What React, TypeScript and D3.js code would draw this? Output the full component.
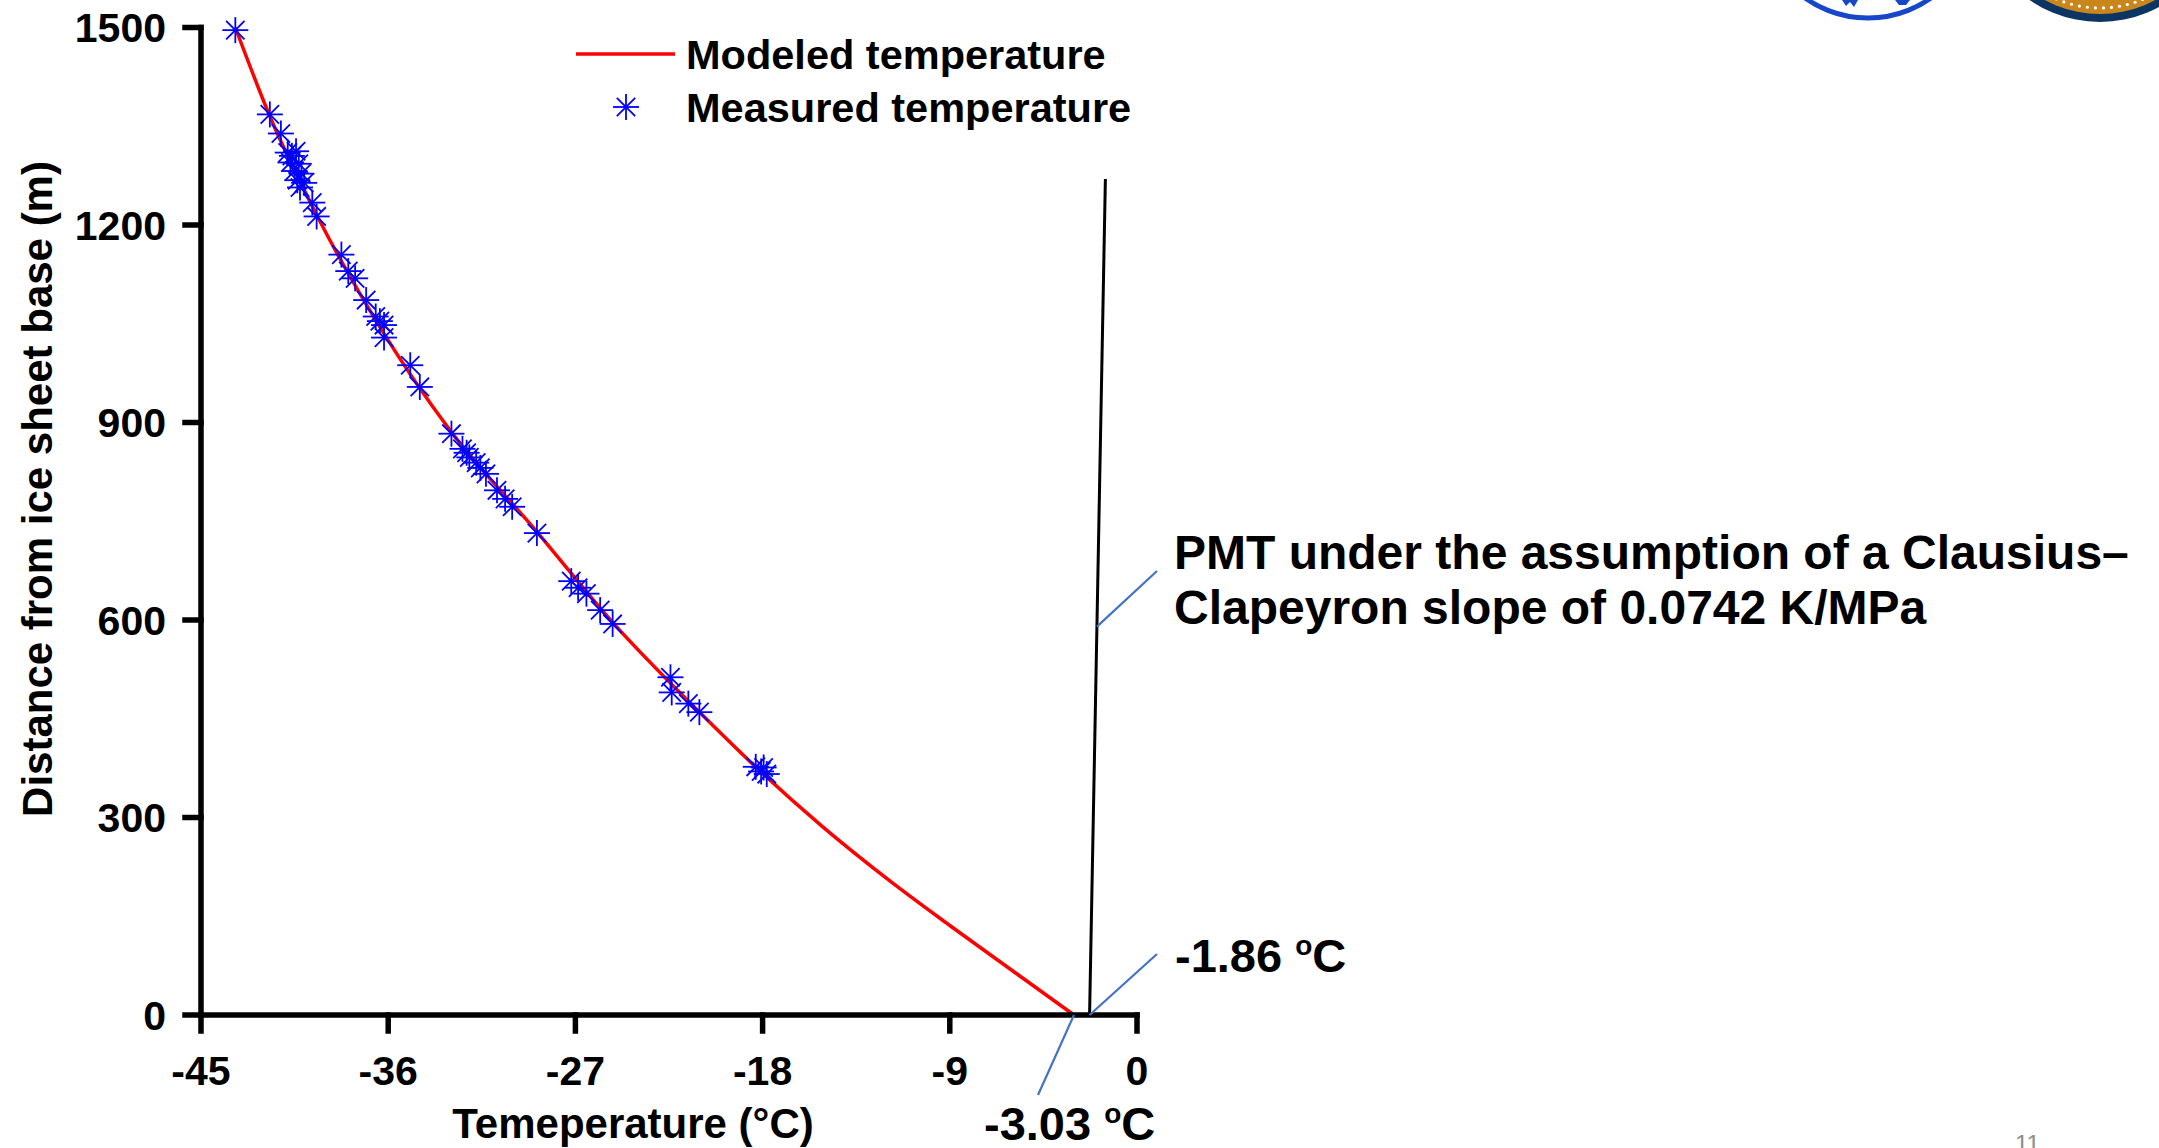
import React from "react";
import * as d3 from "d3";

// ---- data ----
const xTicks = [-45, -36, -27, -18, -9, 0];
const yTicks = [0, 300, 600, 900, 1200, 1500];

const modelTemp = [-43.35, -41.7, -39.4, -36.3, -33.0, -28.85, -25.2, -21.1, -18.07, -15.15, -11.85, -9.0, -5.8, -3.03];
const modelDepth = [1500, 1366, 1213, 1040, 887, 734, 596, 462, 369, 287, 203, 136, 63, 0];

const measTemp = [
  -43.35, -41.69, -41.16, -40.83, -40.63, -40.43, -40.7, -40.3, -40.5, -40.17, -40.37, -40.04, -40.24,
  -39.65, -39.44, -38.25, -37.92, -37.59, -37.06, -36.6, -36.4, -36.2, -36.2, -34.94, -34.48,
  -32.96, -32.43, -32.23, -32.1, -31.77, -31.57, -31.3, -30.77, -30.38, -30.04, -28.85,
  -27.2, -26.87, -26.47, -25.81, -25.21, -22.43, -22.37, -21.57, -21.04, -18.33, -18.07, -17.8, -17.95,
];
const measDepth = [
  1496, 1368, 1339, 1310, 1305, 1312, 1295, 1293, 1282, 1278, 1268, 1264, 1257,
  1234, 1213, 1155, 1130, 1119, 1086, 1061, 1054, 1048, 1029, 987, 954,
  883, 860, 854, 847, 839, 831, 822, 797, 784, 772, 732,
  659, 649, 640, 615, 594, 513, 490, 473, 460, 377, 370, 366, 376,
];

const pmtTemp = [-2.28, -1.52];
const pmtDepth = [0, 1270];

const legendLabels = ["Modeled temperature", "Measured temperature"];
const pmtText = ["PMT under the assumption of a Clausius\u2013", "Clapeyron slope of 0.0742 K/MPa"];
const baseLabel = "-1.86 ";
const modelBaseLabel = "-3.03 ";

const FONT = "'Liberation Sans', Arial, Helvetica, sans-serif";

function Star({ cx, cy, r, color, sw }: { cx: number; cy: number; r: number; color: string; sw: number }) {
  const d = r * Math.SQRT1_2;
  return (
    <g stroke={color} strokeWidth={sw}>
      <line x1={cx - r} y1={cy} x2={cx + r} y2={cy} />
      <line x1={cx} y1={cy - r} x2={cx} y2={cy + r} />
      <line x1={cx - d} y1={cy - d} x2={cx + d} y2={cy + d} />
      <line x1={cx - d} y1={cy + d} x2={cx + d} y2={cy - d} />
    </g>
  );
}

export default function App() {
  const W = 2159;
  const H = 1148;
  const x = d3.scaleLinear().domain([-45, 0]).range([201, 1137]);
  const y = d3.scaleLinear().domain([0, 1500]).range([1015, 27.5]);

  const modelPts: [number, number][] = modelTemp.map((t, i) => [x(t), y(modelDepth[i])]);
  const line = d3.line<[number, number]>().curve(d3.curveMonotoneX);
  const modelPath = line(modelPts) || "";

  const pmtPts: [number, number][] = pmtTemp.map((t, i) => [x(t), y(pmtDepth[i])]);
  const pmtPath = d3.line<[number, number]>()(pmtPts) || "";

  const pmtAnchorDepth = 590;
  const pmtInterp = d3.scaleLinear().domain(pmtDepth).range(pmtTemp);
  const pmtAnchor = [x(pmtInterp(pmtAnchorDepth)), y(pmtAnchorDepth)];
  const baseAnchor = [x(pmtTemp[0]), y(0)];
  const modelAnchor = [x(modelTemp[modelTemp.length - 1]), y(0)];

  const axisColor = "#000";
  const axisW = 5.5;
  const tickLen = 16;
  const fs = 41;
  const callout = "#4472C4";
  const starR = 13;
  const starW = 1.8;

  const dots = d3.range(0, 360, 4.2).map((a) => {
    const rad = (a * Math.PI) / 180;
    return [2100 + 110 * Math.cos(rad), -102 + 110 * Math.sin(rad)];
  });

  return (
    <svg
      width={W}
      height={H}
      viewBox={`0 0 ${W} ${H}`}
      style={{ position: "absolute", left: 0, top: 0, background: "#fff" }}
      fontFamily={FONT}
    >
      <rect x={0} y={0} width={W} height={H} fill="#fff" />

      {/* logos (cut off at top) */}
      <g>
        <circle cx={1868} cy={-91} r={109} fill="#fff" stroke="#1747c9" strokeWidth={5} />
        <path d="M1842,0 L1846,6 L1850,2 L1854,7 L1858,0 Z" fill="#1747c9" />
        <path d="M1895,0 L1899,5 L1906,5 L1910,0 Z" fill="#1747c9" />
        <circle cx={2100} cy={-102} r={124} fill="#0d3563" />
        <circle cx={2100} cy={-102} r={116} fill="#c8861b" />
        {dots.map((p, i) => (
          <circle key={i} cx={p[0]} cy={p[1]} r={1.6} fill="#fff" />
        ))}
      </g>

      {/* PMT line */}
      <path d={pmtPath} stroke="#000" strokeWidth={3} fill="none" />

      {/* model curve */}
      <path d={modelPath} stroke="#ff0000" strokeWidth={3.5} fill="none" />

      {/* measured points */}
      {measTemp.map((t, i) => (
        <Star key={i} cx={x(t)} cy={y(measDepth[i])} r={starR} color="#0000ff" sw={starW} />
      ))}

      {/* axes */}
      <g stroke={axisColor} strokeWidth={axisW} strokeLinecap="square">
        <line x1={x(-45)} y1={y(0)} x2={x(-45)} y2={y(1500)} />
        <line x1={x(-45)} y1={y(0)} x2={x(0)} y2={y(0)} />
        {yTicks.map((v) => (
          <line key={"yt" + v} x1={x(-45) - tickLen} y1={y(v)} x2={x(-45)} y2={y(v)} />
        ))}
        {xTicks.map((v) => (
          <line key={"xt" + v} x1={x(v)} y1={y(0)} x2={x(v)} y2={y(0) + tickLen} />
        ))}
      </g>
      <g fontSize={fs} fontWeight="bold" fill="#000">
        {yTicks.map((v) => (
          <text key={"yl" + v} x={166} y={y(v)} dy="0.36em" textAnchor="end">
            {v}
          </text>
        ))}
        {xTicks.map((v) => (
          <text key={"xl" + v} x={x(v)} y={1085} textAnchor="middle">
            {v}
          </text>
        ))}
        <text x={633} y={1138} textAnchor="middle" fontSize={42}>
          Temeperature (°C)
        </text>
        <text transform="translate(52,489) rotate(-90)" textAnchor="middle" fontSize={42}>
          Distance from ice sheet base (m)
        </text>
      </g>

      {/* legend */}
      <g>
        <line x1={576} y1={54} x2={675} y2={54} stroke="#ff0000" strokeWidth={3.5} />
        <Star cx={626} cy={107} r={starR} color="#0000ff" sw={starW} />
        <g fontSize={41.5} fontWeight="bold" fill="#000">
          <text x={686} y={54} dy="0.36em">{legendLabels[0]}</text>
          <text x={686} y={107} dy="0.36em">{legendLabels[1]}</text>
        </g>
      </g>

      {/* callouts */}
      <g stroke={callout} strokeWidth={2.2}>
        <line x1={pmtAnchor[0]} y1={pmtAnchor[1]} x2={1157} y2={571} />
        <line x1={baseAnchor[0]} y1={baseAnchor[1]} x2={1157} y2={954} />
        <line x1={modelAnchor[0]} y1={modelAnchor[1]} x2={1038} y2={1095} />
      </g>
      <g fontSize={48} fontWeight="bold" fill="#000">
        <text x={1174} y={552} dy="0.36em">{pmtText[0]}</text>
        <text x={1174} y={607} dy="0.36em">{pmtText[1]}</text>
      </g>
      <g fontSize={47} fontWeight="bold" fill="#000">
        <text x={1175} y={972}>
          {baseLabel}
          <tspan fontSize={28} dy={-17}>o</tspan>
          <tspan dy={17}>C</tspan>
        </text>
        <text x={984} y={1140}>
          {modelBaseLabel}
          <tspan fontSize={28} dy={-17}>o</tspan>
          <tspan dy={17}>C</tspan>
        </text>
      </g>

      {/* page number */}
      <text x={2015} y={1152} fontSize={24} fill="#8c8c8c" fontFamily={FONT}>
        11
      </text>
    </svg>
  );
}
